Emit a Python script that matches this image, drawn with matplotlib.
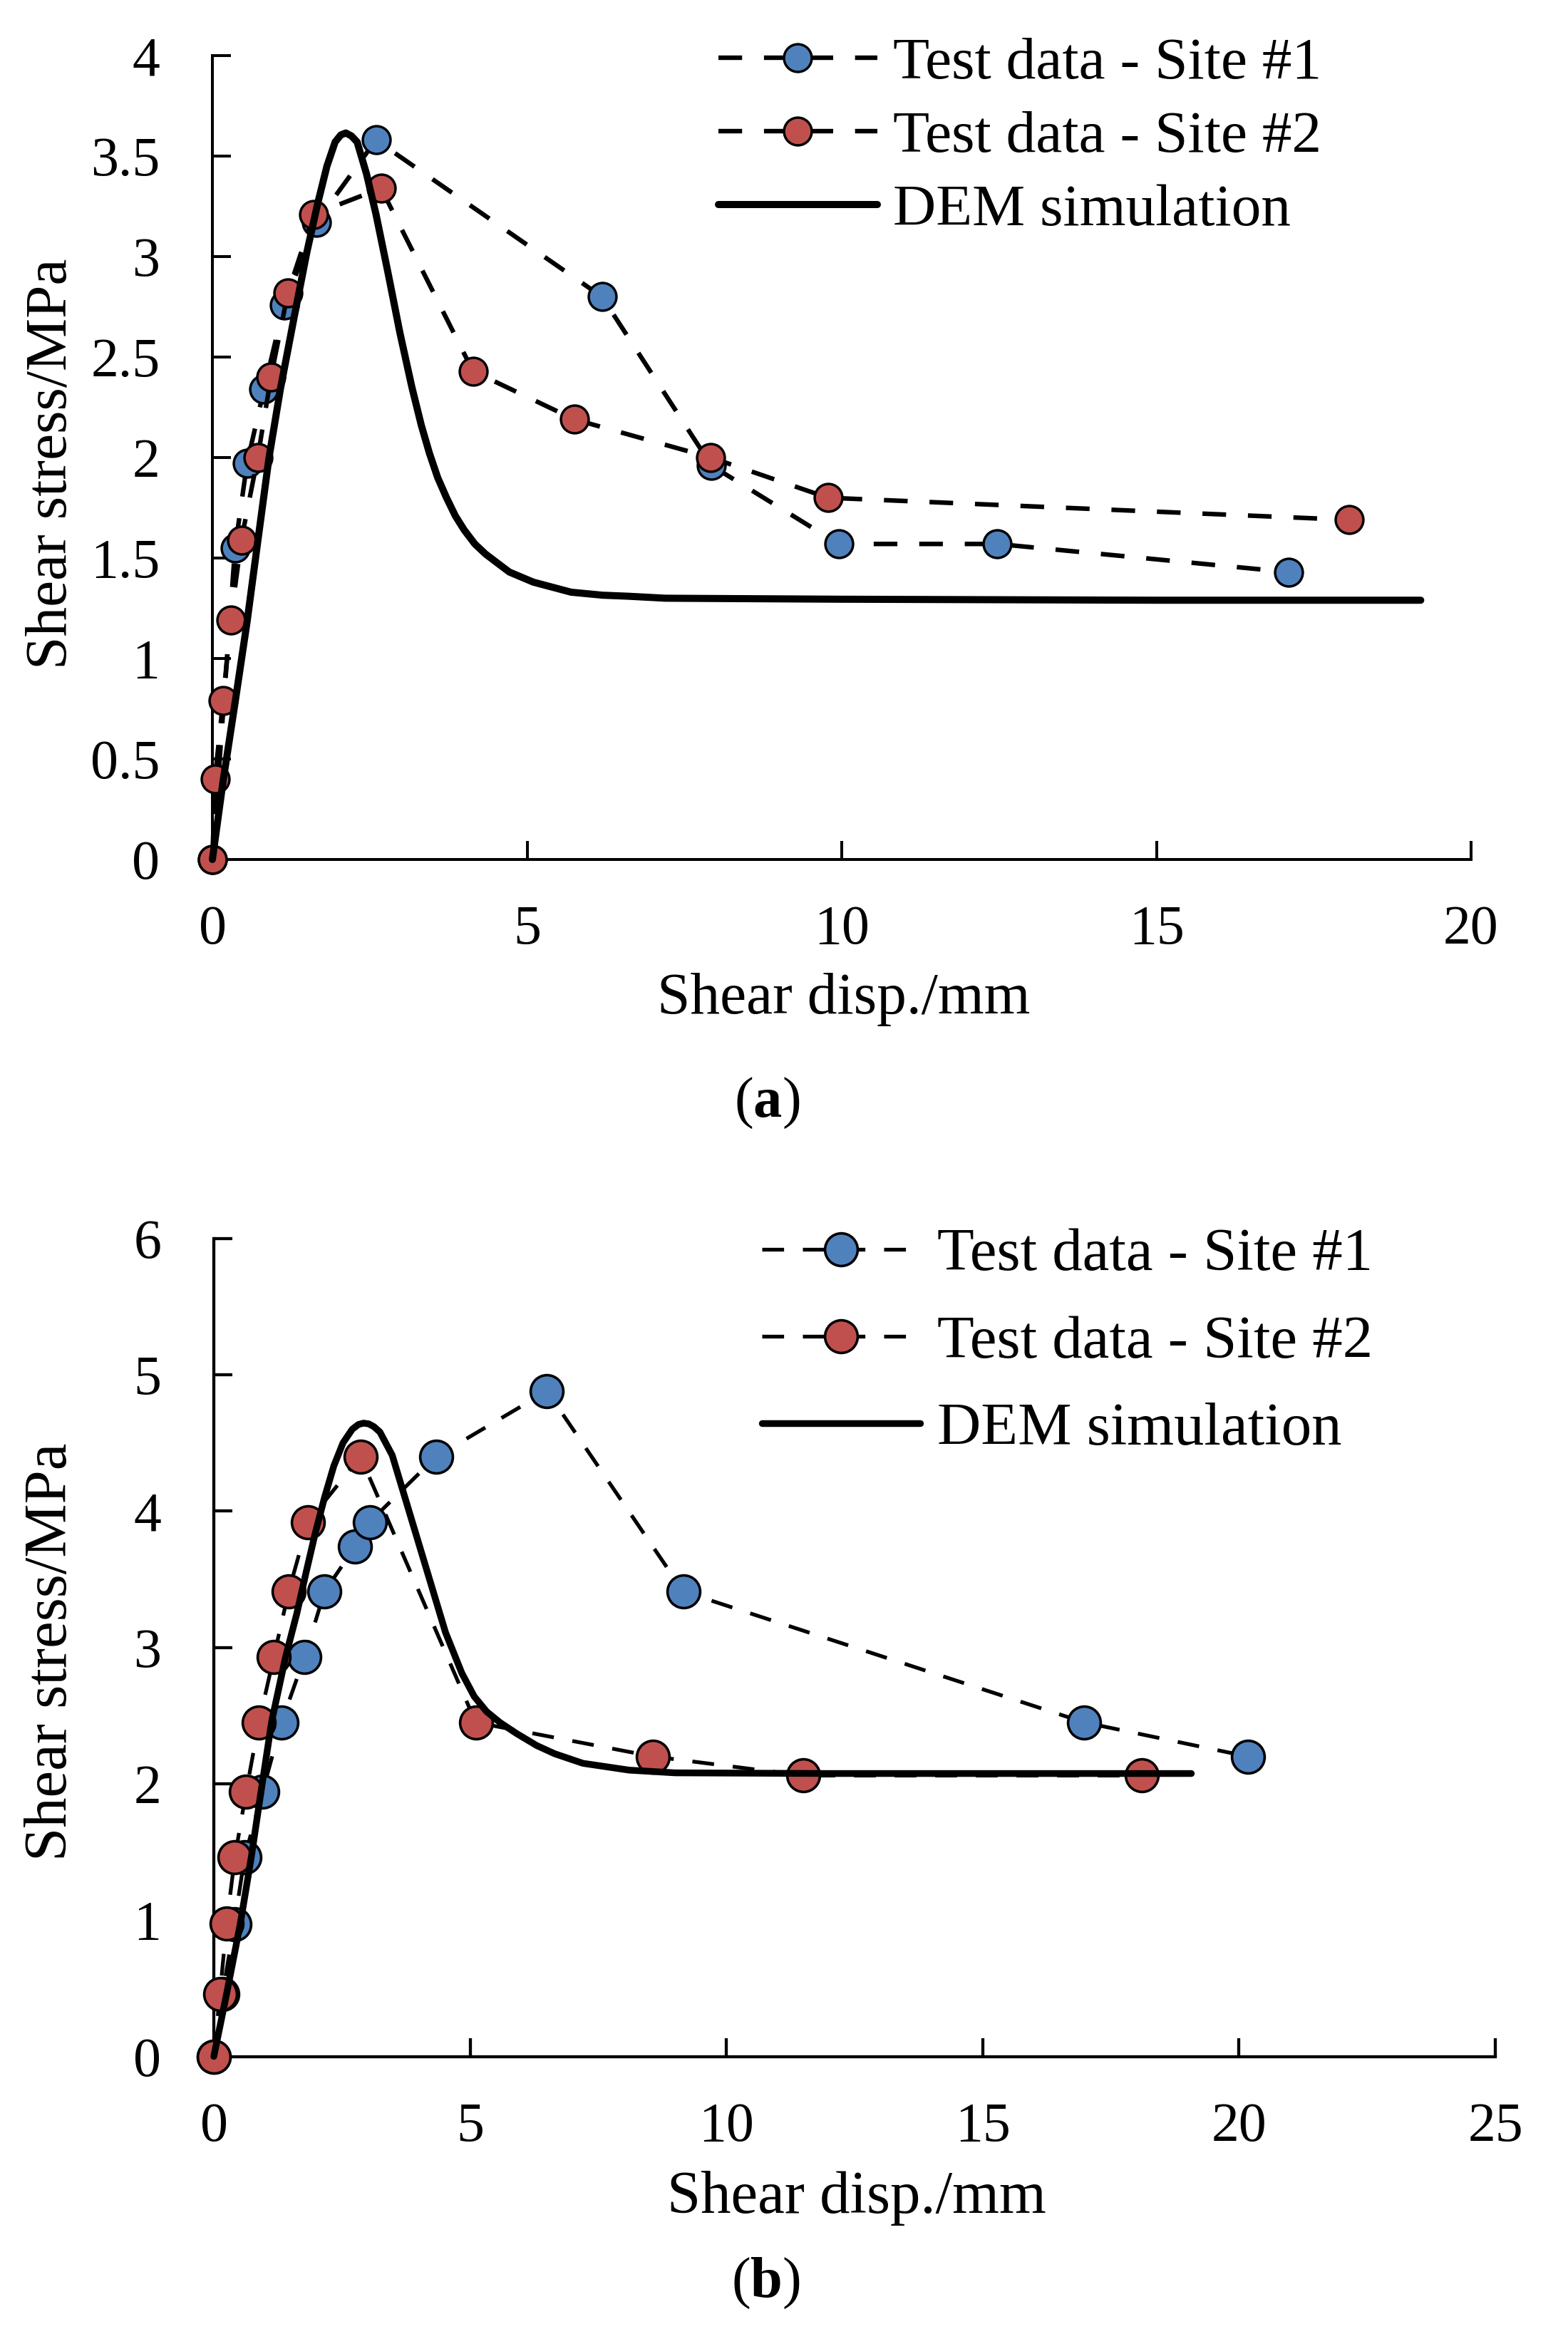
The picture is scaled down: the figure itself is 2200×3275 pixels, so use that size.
import matplotlib
matplotlib.use("Agg")
import matplotlib.pyplot as plt

plt.rcParams['font.family'] = 'serif'
plt.rcParams['font.serif'] = ['Liberation Serif', 'Times New Roman', 'DejaVu Serif']
plt.rcParams['mathtext.fontset'] = 'custom'
plt.rcParams['mathtext.rm'] = 'Liberation Serif'
plt.rcParams['mathtext.bf'] = 'Liberation Serif:bold'

# ---------------- data: panel (a) ----------------
a_site1_x = [0, 0.36, 0.55, 0.82, 1.14, 1.65, 2.60, 6.19, 7.93, 9.95, 12.47, 17.10]
a_site1_y = [0, 1.55, 1.97, 2.34, 2.76, 3.17, 3.58, 2.80, 1.96, 1.57, 1.57, 1.43]
a_site2_x = [0, 0.04, 0.17, 0.29, 0.46, 0.72, 0.93, 1.20, 1.61, 2.68, 4.14, 5.75, 7.92, 9.78, 18.06]
a_site2_y = [0, 0.40, 0.79, 1.19, 1.59, 2.00, 2.40, 2.82, 3.21, 3.34, 2.43, 2.19, 2.00, 1.80, 1.69]
a_dem_x = [0, 0.17, 0.36, 0.55, 0.72, 0.90, 1.08, 1.30, 1.50, 1.67, 1.82, 1.95, 2.04, 2.12,
           2.21, 2.30, 2.45, 2.60, 2.79, 2.98, 3.17, 3.32, 3.45, 3.58, 3.72, 3.86, 4.00, 4.17,
           4.34, 4.55, 4.72, 5.10, 5.70, 6.20, 6.60, 7.20, 10.0, 15.0, 19.2]
a_dem_y = [0, 0.39, 0.78, 1.18, 1.58, 2.00, 2.34, 2.70, 3.02, 3.26, 3.45, 3.57, 3.605, 3.615,
           3.60, 3.57, 3.41, 3.21, 2.92, 2.62, 2.35, 2.16, 2.02, 1.90, 1.80, 1.71, 1.64, 1.57,
           1.52, 1.47, 1.43, 1.38, 1.33, 1.315, 1.31, 1.30, 1.295, 1.29, 1.29]

# ---------------- data: panel (b) ----------------
b_site1_x = [0, 0.17, 0.40, 0.60, 0.95, 1.32, 1.77, 2.16, 2.76, 3.04, 4.34, 6.50, 9.16, 16.98, 20.17]
b_site1_y = [0, 0.46, 0.97, 1.46, 1.94, 2.45, 2.93, 3.41, 3.74, 3.92, 4.40, 4.88, 3.41, 2.45, 2.20]
b_site2_x = [0, 0.12, 0.25, 0.41, 0.63, 0.88, 1.17, 1.46, 1.84, 2.86, 5.11, 8.57, 11.50, 18.10]
b_site2_y = [0, 0.46, 0.975, 1.46, 1.94, 2.45, 2.93, 3.41, 3.92, 4.40, 2.45, 2.20, 2.06, 2.06]
b_dem_x = [0, 0.25, 0.52, 0.73, 0.92, 1.13, 1.40, 1.62, 1.80, 1.98, 2.16, 2.34, 2.52, 2.70,
           2.82, 2.92, 3.02, 3.12, 3.24, 3.48, 3.72, 3.96, 4.20, 4.52, 4.84, 5.08, 5.32, 5.58,
           5.90, 6.30, 6.65, 7.20, 8.10, 9.00, 12.0, 16.0, 19.07]
b_dem_y = [0, 0.46, 0.98, 1.46, 1.94, 2.46, 2.93, 3.25, 3.55, 3.84, 4.10, 4.33, 4.50, 4.60,
           4.635, 4.645, 4.64, 4.62, 4.58, 4.41, 4.11, 3.81, 3.51, 3.11, 2.81, 2.64, 2.53, 2.45,
           2.37, 2.28, 2.22, 2.15, 2.10, 2.08, 2.075, 2.075, 2.075]

a_xticks = [0, 5, 10, 15, 20]
a_yticks = [0, 0.5, 1, 1.5, 2, 2.5, 3, 3.5, 4]
a_ytick_labels = ['0', '0.5', '1', '1.5', '2', '2.5', '3', '3.5', '4']
b_xticks = [0, 5, 10, 15, 20, 25]
b_yticks = [0, 1, 2, 3, 4, 5, 6]

labels = ['Test data - Site #1', 'Test data - Site #2', 'DEM simulation']
BLUE = '#4F81BD'
RED = '#C0504D'

W, H = 2200, 3275
fig = plt.figure(figsize=(22, 32.75), dpi=100)


def fx(px):
    return px / W


def fy(py):
    return 1 - py / H


def style_axes(ax, spine_w):
    for s in ['top', 'right']:
        ax.spines[s].set_visible(False)
    for s in ['left', 'bottom']:
        ax.spines[s].set_linewidth(spine_w)
        ax.spines[s].set_zorder(1)
    ax.tick_params(direction='in', length=19, width=spine_w, labelsize=56,
                   colors='black')
    ax.tick_params(axis='x', pad=46)
    ax.tick_params(axis='y', pad=53)
    ax.set_facecolor('none')


# ---------------- panel (a) ----------------
axa = fig.add_axes([fx(298), fy(1206), fx(2064 - 298), (1206 - 78) / H])
style_axes(axa, 2.9)
axa.set_xlim(0, 20)
axa.set_ylim(0, 4)
axa.set_xticks(a_xticks)
axa.set_yticks(a_yticks)
axa.set_yticklabels(a_ytick_labels)

dash_a = (0, (5.2, 4.8))
la1, = axa.plot(a_site1_x, a_site1_y, linestyle=dash_a, color='black', lw=4.6,
                marker='o', ms=28, mfc=BLUE, mec='black', mew=2.5, clip_on=False, zorder=3)
la2, = axa.plot(a_site2_x, a_site2_y, linestyle=dash_a, color='black', lw=4.6,
                marker='o', ms=28, mfc=RED, mec='black', mew=2.5, clip_on=False, zorder=4)
la3, = axa.plot(a_dem_x, a_dem_y, '-', color='black', lw=7.2, solid_joinstyle='round',
                solid_capstyle='round', clip_on=False, zorder=5)

axa.legend([la1, la2, la3], labels, loc='upper left', frameon=False, fontsize=60,
           bbox_to_anchor=(fx(1008), fy(52)), bbox_transform=fig.transFigure,
           borderpad=0, borderaxespad=0, handlelength=2.67, handletextpad=0.27,
           labelspacing=0.32, numpoints=1)

fig.text(fx(73), fy(651), 'Shear stress/MPa', rotation=90, ha='center', va='center',
         fontsize=60)
fig.text(fx(1184), fy(1422), 'Shear disp./mm', ha='center', va='baseline', fontsize=60)
fig.text(fx(1076), fy(1567), r'($\mathbf{a}$)', ha='center', va='baseline', fontsize=58)

# ---------------- panel (b) ----------------
axb = fig.add_axes([fx(300), fy(2885.5), fx(2098 - 300), (2885.5 - 1737.7) / H])
style_axes(axb, 3.1)
axb.set_xlim(0, 25)
axb.set_ylim(0, 6)
axb.set_xticks(b_xticks)
axb.set_yticks(b_yticks)

dash_b = (0, (5.8, 5.0))
lb1, = axb.plot(b_site1_x, b_site1_y, linestyle=dash_b, color='black', lw=3.8,
                marker='o', ms=33, mfc=BLUE, mec='black', mew=2.6, clip_on=False, zorder=3)
lb2, = axb.plot(b_site2_x, b_site2_y, linestyle=dash_b, color='black', lw=3.8,
                marker='o', ms=33, mfc=RED, mec='black', mew=2.6, clip_on=False, zorder=4)
lb3, = axb.plot(b_dem_x, b_dem_y, '-', color='black', lw=6.8, solid_joinstyle='round',
                solid_capstyle='round', clip_on=False, zorder=5)

axb.legend([lb1, lb2, lb3], labels, loc='upper left', frameon=False, fontsize=61,
           bbox_to_anchor=(fx(1069), fy(1723)), bbox_transform=fig.transFigure,
           borderpad=0, borderaxespad=0, handlelength=2.62, handletextpad=0.28,
           labelspacing=0.53, numpoints=1)

fig.text(fx(73), fy(2318), 'Shear stress/MPa', rotation=90, ha='center', va='center',
         fontsize=61)
fig.text(fx(1202), fy(3105), 'Shear disp./mm', ha='center', va='baseline', fontsize=61)
fig.text(fx(1074), fy(3223), r'($\mathbf{b}$)', ha='center', va='baseline', fontsize=58)

fig.savefig('out.png', dpi=100, facecolor='white')
